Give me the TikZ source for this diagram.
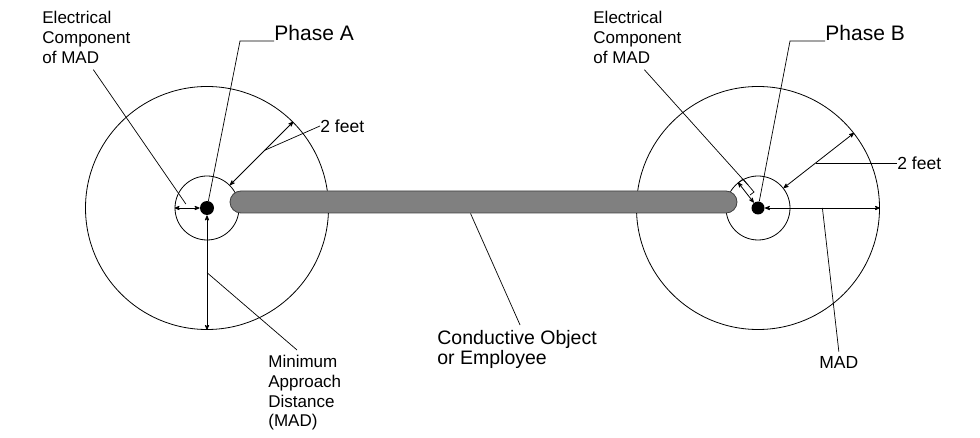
\documentclass[tikz,border=0pt]{standalone}
\usepackage{fontspec}
\setmainfont{Liberation Sans}
\usetikzlibrary{arrows,positioning,shapes.misc}

\begin{document}
\begin{tikzpicture}[>=stealth',x=1pt,y=-1pt,line width=0.8pt]
  \tikzstyle{dot}=[circle,fill=black,inner sep=0pt,minimum size=14pt]
  \tikzstyle{inner zone}=[circle,draw,inner sep=0pt,minimum size=64pt]
  \tikzstyle{outer zone}=[circle,draw,inner sep=0pt,minimum size=243pt]
  \tikzstyle{tag}=[inner sep=0pt,align=left,anchor=north west,font=\fontsize{17}{19.7}\selectfont]
  \tikzstyle{phase}=[inner sep=0pt,anchor=base west,font=\fontsize{21}{24}\selectfont]
  \tikzstyle{feet}=[inner sep=0pt,anchor=west,font=\fontsize{17.5}{20}\selectfont]
  \tikzstyle{leader}=[line width=0.7pt]
  \tikzstyle{dim}=[<->,line width=0.8pt]

  \useasboundingbox (0,0) rectangle (980,438);

  % phase conductors and their zones
  \node[dot]                         (pA) at (207,208) {};
  \node[dot,minimum size=13pt]       (pB) [right of=pA,node distance=551pt] {};
  \node[inner zone] (sA) at (pA) {};
  \node[outer zone] (bA) at (pA) {};
  \node[inner zone] (sB) at (pB) {};
  \node[outer zone] (bB) at (pB) {};

  % conductive object
  \node[rounded rectangle,draw=black!75,fill=black!50,inner sep=0pt,
        minimum width=507pt,minimum height=22pt] (rod) at (483.5,202) {};

  % labels
  \node[tag]   (ecA)  at (42,11)   {Electrical\\Component\\of MAD};
  \node[tag]   (ecB)  at (593,11)  {Electrical\\Component\\of MAD};
  \node[phase] (phA)  at (274,41)  {Phase A};
  \node[phase] (phB)  at (825,41)  {Phase B};
  \node[feet]  (ftA)  at (320,126) {2 feet};
  \node[feet]  (ftB)  at (897,163) {2 feet};
  \node[tag]   (madA) at (268,355) {Minimum\\Approach\\Distance\\(MAD)};
  \node[feet,anchor=base west] (madB) at (819,368) {MAD};
  \node[tag,font=\fontsize{19.5}{20}\selectfont] (cond) at (437,330)
       {Conductive Object\\or Employee};

  % dimensions, phase A
  \draw[dim] (sA.west) -- (pA.west) coordinate[pos=0.45] (ecAm);
  \draw[dim] (sA.45) -- (bA.45) coordinate[pos=0.55] (ftAm);
  \draw[dim] (pA.south) -- (bA.south) coordinate[pos=0.5] (madAm);

  % dimensions, phase B
  \draw[dim] (sB.128) -- (pB.128);
  \draw[leader] (738,183) -- (743,179) -- (754,192) -- (750,195);
  \coordinate (ecBm) at (748,185);
  \draw[dim] (sB.38) -- (bB.38) coordinate[pos=0.46] (ftBm);
  \draw[dim] (pB.east) -- (bB.east) coordinate[pos=0.5] (madBm);

  % leaders
  \draw[leader] ([shift={(7,6)}]ecA.south) -- ([shift={(0,-4)}]ecAm);
  \draw[leader] (phA.base west) -- ++(-34,0) -- (pA);
  \draw[leader] (ftA.west) -- (ftAm);
  \draw[leader] (madAm) -- ([shift={(29,-5)}]madA.north west);
  \draw[leader] ([shift={(7,6)}]ecB.south) -- (ecBm);
  \draw[leader] (phB.base west) -- ++(-35,0) -- (pB);
  \draw[leader] (ftB.west) -- (ftB.west -| ftBm);
  \draw[leader] (madBm) -- ([shift={(0,-4)}]madB.north);
  \draw[leader] ([shift={(-13,0)}]rod.south) -- ([shift={(3,-5)}]cond.north);
\end{tikzpicture}
\end{document}
